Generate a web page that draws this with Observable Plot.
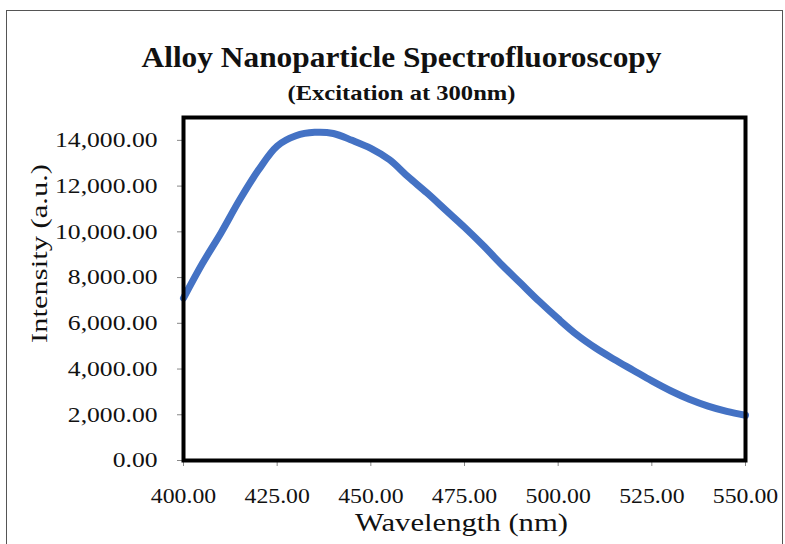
<!DOCTYPE html>
<html>
<head>
<meta charset="utf-8">
<script src="https://cdn.jsdelivr.net/npm/d3@7"></script>
<script src="https://cdn.jsdelivr.net/npm/@observablehq/plot@0.6"></script>
<style>
  html, body { margin: 0; padding: 0; background: #fff; }
  #wrap { position: relative; width: 785px; height: 544px; overflow: hidden; }
  #border { position: absolute; left: 6px; top: 10px; width: 777px; height: 540px; border: 1.5px solid #555; box-sizing: border-box; }
  #chart { position: absolute; left: 0; top: 0; }
</style>
</head>
<body>
<div id="wrap"><div id="border"></div><div id="chart"></div></div>
<script>
const title = "Alloy Nanoparticle Spectrofluoroscopy";
const subtitle = "(Excitation at 300nm)";
const xLabel = "Wavelength (nm)";
const yLabel = "Intensity (a.u.)";

const wavelength = [400,405,410,415,420,425,430,435,440,445,450,455,460,465,470,475,480,485,490,495,500,505,510,515,520,525,530,535,540,545,550];
const intensity  = [7100,8600,9950,11400,12700,13750,14200,14350,14300,14000,13650,13150,12400,11700,10950,10200,9400,8550,7750,6950,6200,5500,4920,4420,3950,3480,3050,2680,2380,2150,1980];

const xTicks = [400,425,450,475,500,525,550];
const yTicks = [0,2000,4000,6000,8000,10000,12000,14000];

const data = wavelength.map((w, i) => ({w, v: intensity[i]}));
const fx = d3.format(".2f");
const fy = d3.format(",.2f");

const chart = Plot.plot({
  width: 785,
  height: 544,
  marginLeft: 183,
  marginRight: 40,
  marginTop: 117,
  marginBottom: 84,
  style: {fontFamily: "'Liberation Serif', 'Times New Roman', serif", background: "transparent", color: "#000", overflow: "visible"},
  x: {domain: [400, 550]},
  y: {domain: [0, 15000]},
  marks: [
    Plot.axisX({ticks: xTicks, tickFormat: fx, tickSize: 6, tickPadding: 21, fontSize: 22, stroke: "#888", fill: "#111", label: null}),
    Plot.axisY({ticks: yTicks, tickFormat: fy, tickSize: 6, tickPadding: 20, fontSize: 21, stroke: "#888", fill: "#111", label: null}),
    Plot.line(data, {x: "w", y: "v", stroke: "#4472c4", strokeWidth: 7, curve: "catmull-rom"}),
    Plot.frame({stroke: "#000", strokeWidth: 4}),
    Plot.text([title], {frameAnchor: "top", lineAnchor: "middle", dx: -63, dy: -60, fontSize: 30, fontWeight: "bold", fill: "#111"}),
    Plot.text([subtitle], {frameAnchor: "top", lineAnchor: "middle", dx: -63, dy: -24, fontSize: 21, fontWeight: "bold", fill: "#111"}),
    Plot.text([xLabel], {frameAnchor: "bottom", lineAnchor: "middle", dx: -3, dy: 62, fontSize: 25, fill: "#111"}),
    Plot.text([yLabel], {frameAnchor: "left", lineAnchor: "middle", dx: -144, dy: 54, rotate: -90, fontSize: 23, fill: "#111"})
  ]
});
document.getElementById("chart").appendChild(chart);

// match the reference's text widths
const targets = new Map([[title, 520], [subtitle, 228], [yLabel, 179], [xLabel, 213]]);
chart.querySelectorAll("text").forEach(t => {
  const s = t.textContent;
  const len = t.getComputedTextLength();
  let target = null;
  if (targets.has(s)) target = targets.get(s);
  else if (yTicks.map(fy).includes(s)) target = len * 1.22;
  else if (xTicks.map(fx).includes(s)) target = len * 1.08;
  if (target) {
    t.setAttribute("textLength", target);
    t.setAttribute("lengthAdjust", "spacingAndGlyphs");
  }
});
</script>
</body>
</html>
